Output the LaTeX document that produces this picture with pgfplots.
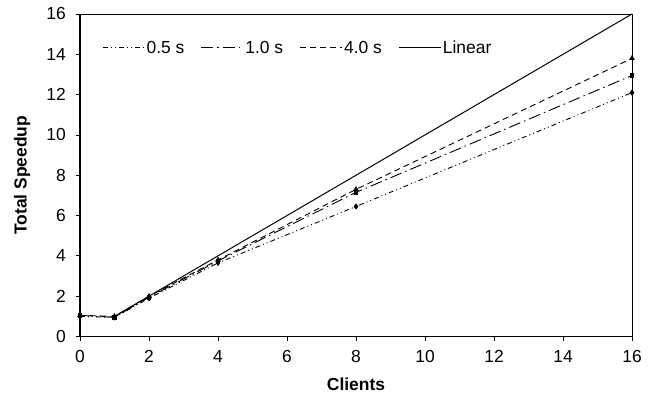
\documentclass[border=0pt]{standalone}
\usepackage{fontspec}
\setmainfont{Liberation Sans}
\usepackage{pgfplots}
\pgfplotsset{compat=1.18}
\begin{document}
\begin{tikzpicture}[x=1bp,y=1bp]
\begin{axis}[
  scale only axis,
  width=552bp, height=322.5bp,
  xmin=0, xmax=16, ymin=0, ymax=16,
  xtick={0,2,...,16}, ytick={0,2,...,16},
  tick align=outside, xtick pos=left, ytick pos=left,
  major tick length=4bp,
  tick style={line width=0.8bp, black},
  axis line style={line width=0.9bp},
  /pgf/number format/assume math mode=true,
  tick label style={font=\fontsize{17.5}{20}\selectfont, inner sep=0pt},
  xticklabel style={yshift=-10bp},
  yticklabel style={xshift=-10bp},
  label style={font=\fontsize{17.5}{20}\selectfont\bfseries},
  xlabel={Clients}, ylabel={Total Speedup},
  xlabel style={at={(axis description cs:0.5,0)}, anchor=center, yshift=-48bp},
  ylabel style={at={(axis description cs:0,0.5)}, anchor=center, yshift=58bp},
  legend columns=4,
  legend style={draw=none, fill=none, inner sep=0pt, at={(rel axis cs:0.04,0.895)}, anchor=west,
    font=\fontsize{17.5}{20}\selectfont, nodes={inner sep=1.5bp},
    /tikz/every even column/.append style={column sep=15bp},
    /tikz/column 6/.style={column sep=28bp}},
  legend image code/.code={\draw[#1] (0bp,0bp) -- (21bp,0bp) -- (42bp,0bp);},
  clip=false,
]
\addplot[black, line width=0.9bp, dash pattern=on 5bp off 3bp on 1bp off 3bp on 1bp off 3bp, mark=diamond*, mark size=2.4bp, mark options={solid}]
 coordinates {(0,1.0) (1,0.95) (2,1.9) (4,3.65) (8,6.45) (16,12.1)};
\addlegendentry{0.5 s}
\addplot[black, line width=0.9bp, dash pattern=on 12bp off 4bp on 1.5bp off 4bp, mark=square*, mark size=1.8bp, mark options={solid}]
 coordinates {(0,1.05) (1,0.95) (2,1.95) (4,3.75) (8,7.15) (16,12.95)};
\addlegendentry{1.0 s}
\addplot[black, line width=0.9bp, dash pattern=on 6bp off 4bp, mark=triangle*, mark size=2.4bp, mark options={solid}]
 coordinates {(0,1.05) (1,1.0) (2,2.0) (4,3.8) (8,7.3) (16,13.8)};
\addlegendentry{4.0 s}
\addplot[black, line width=1bp]
 coordinates {(1,1) (2,2) (4,4) (8,8) (16,16)};
\addlegendentry{Linear}
\draw[line width=1.8bp] (rel axis cs:0,1) -- (rel axis cs:0,0) -- (rel axis cs:1,0);
\end{axis}
\path (-80bp,-58.5bp) rectangle (577bp,336.5bp);
\end{tikzpicture}
\end{document}
